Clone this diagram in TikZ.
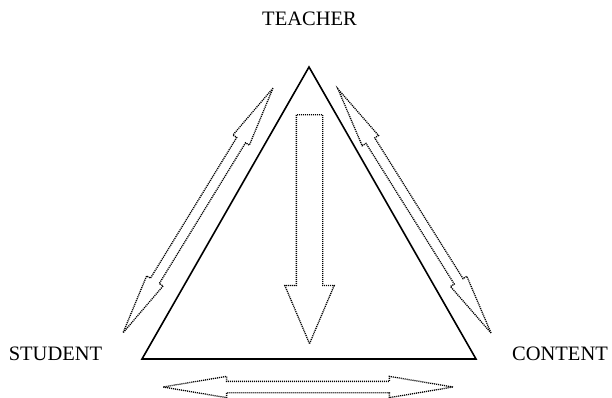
\documentclass[tikz,border=0pt]{standalone}
\usepackage{fontspec}
\setmainfont{Liberation Serif}
\usetikzlibrary{shapes.arrows,positioning}

\tikzset{
  vertex/.style={inner sep=0pt, font=\fontsize{20.5}{24}\selectfont},
  dotline/.style={draw, dash pattern=on 1.1pt off 0.9pt, line width=1.3pt},
  twoway/.style={double arrow, dotline, inner xsep=0pt,
    double arrow head indent=0pt},
  oneway/.style={single arrow, dotline, inner xsep=0pt,
    single arrow head indent=0pt}
}

\begin{document}
\begin{tikzpicture}[x=1pt,y=1pt]
    \useasboundingbox (0,0) rectangle (612,397);

    % Corners of the triangle
    \coordinate (tc) at (309,330);
    \coordinate (sc) at (142,38);
    \coordinate (cc) at (476,38);
    \draw[line width=1.6pt, line join=miter] (tc) -- (sc) -- (cc) -- cycle;

    % Labels
    \node[vertex, anchor=base] (teacher) at (309.5,371) {TEACHER};
    \node[vertex, anchor=base] (student) at (55.5,37) {STUDENT};
    \node[vertex, anchor=base] (content) at (560,37) {CONTENT};

    % Two-way relations along the sides
    \node[twoway, minimum height=287pt, minimum width=18pt, inner ysep=4.5pt,
      double arrow head extend=4.5pt, double arrow tip angle=18,
      rotate=58.5] (ts) at (198,186.5) {};
    \node[twoway, minimum height=288pt, minimum width=18pt, inner ysep=4.5pt,
      double arrow head extend=4.5pt, double arrow tip angle=18,
      rotate=-57.9] (tcon) at (414.5,186) {};
    \node[twoway, minimum height=290pt, minimum width=20pt, inner ysep=5pt,
      double arrow head extend=5pt, double arrow tip angle=19] (scon) at (308,10) {};

    % Teacher to content
    \node[oneway, minimum height=229pt, minimum width=48pt, inner ysep=12.5pt,
      single arrow head extend=11.5pt, single arrow tip angle=46,
      rotate=-90, anchor=tail] (down) at (309.5,283) {};
\end{tikzpicture}
\end{document}
